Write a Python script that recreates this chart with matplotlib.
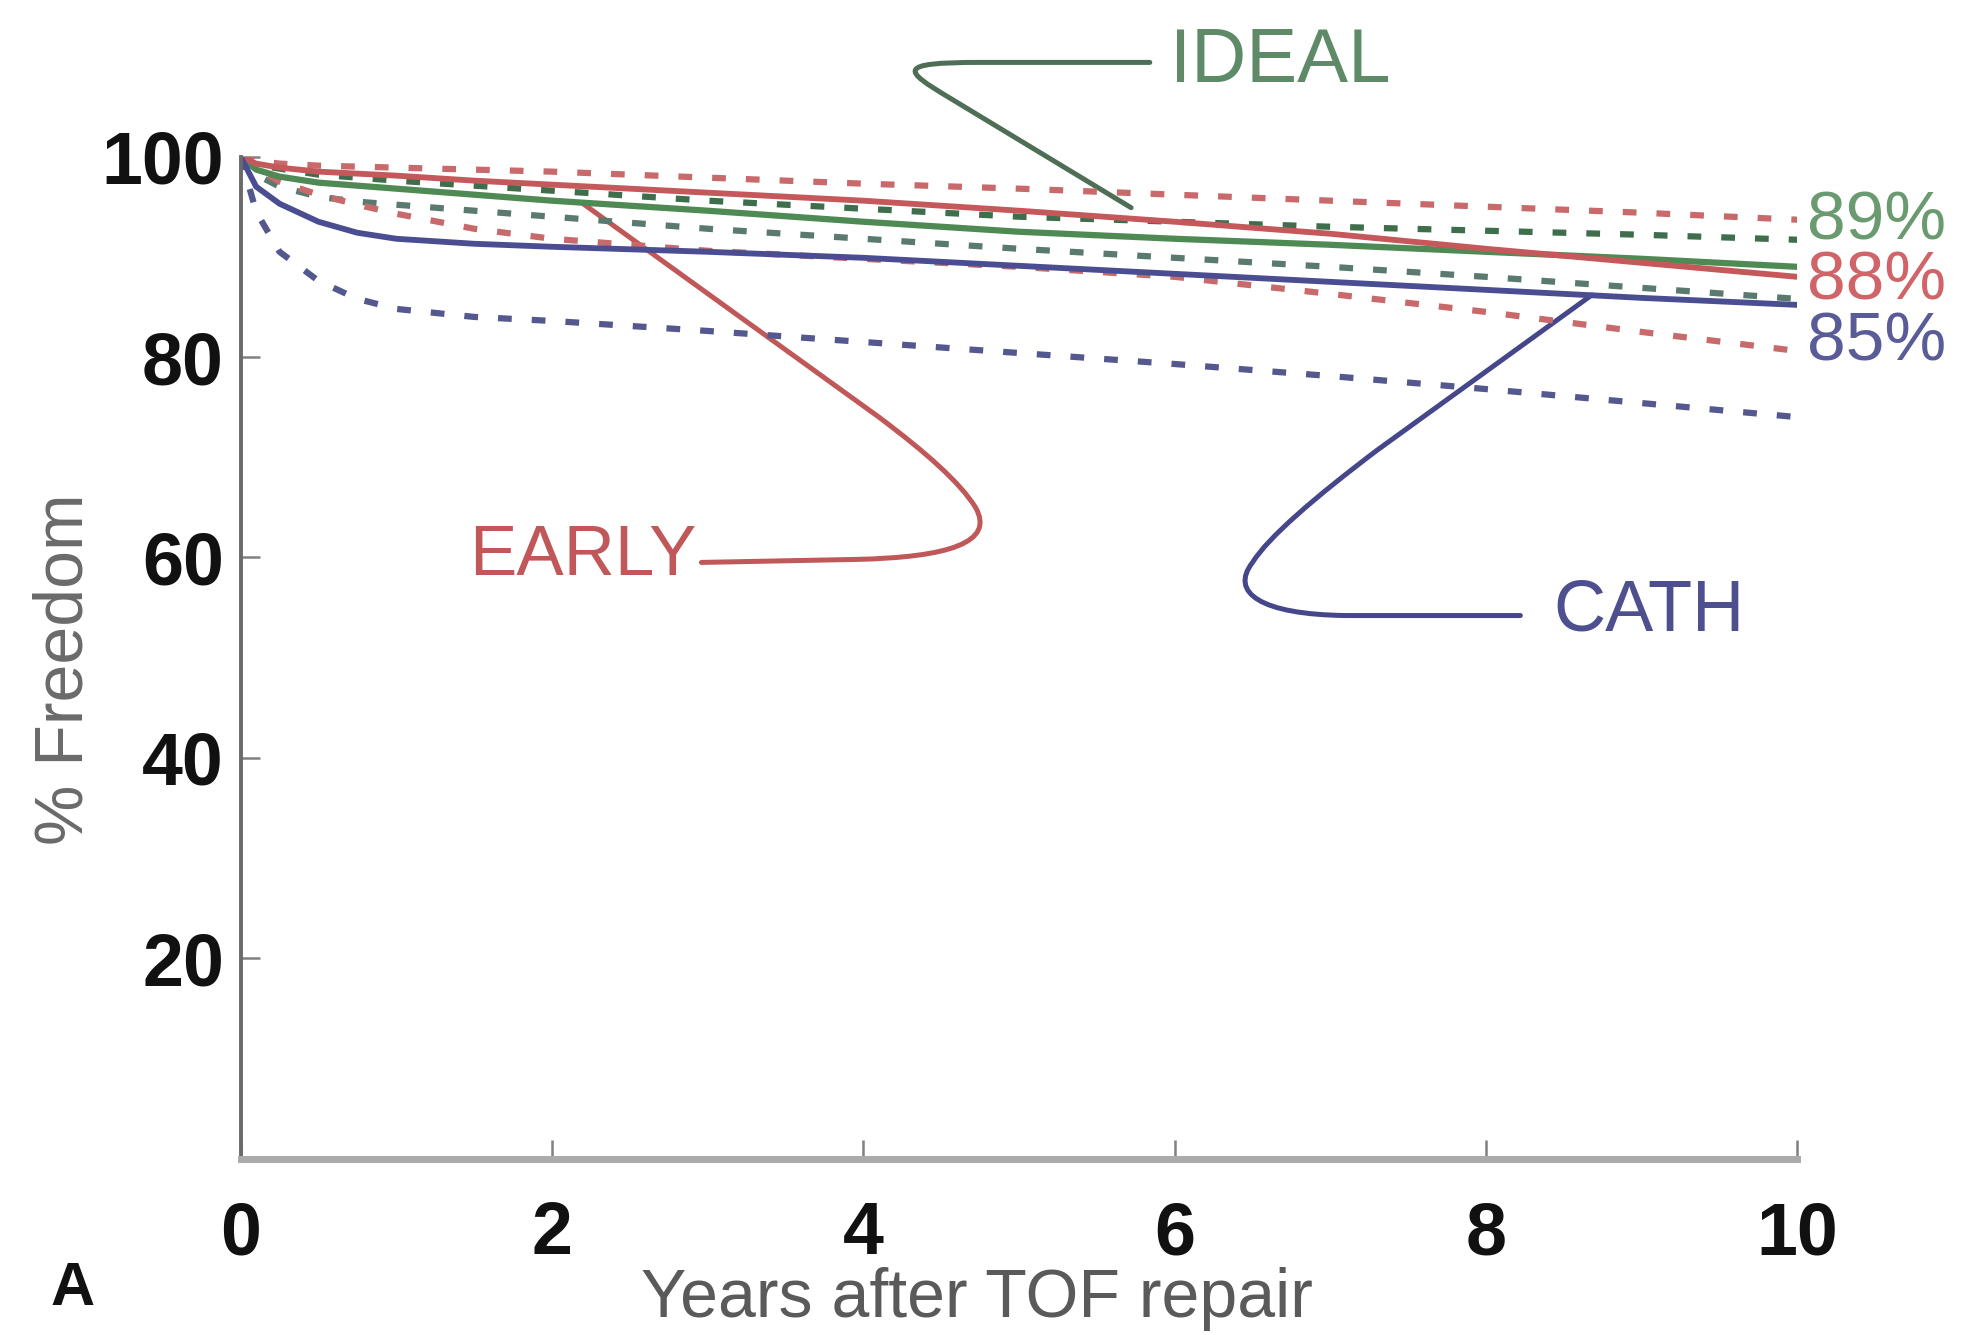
import matplotlib
matplotlib.use('Agg')
import matplotlib.pyplot as plt
from matplotlib.path import Path
from matplotlib.patches import PathPatch

# ---- data ----
years = [0, 0.1, 0.25, 0.5, 0.75, 1, 1.5, 2, 3, 4, 5, 6, 7, 8, 9, 10]

early_upper = [100, 99.6, 99.3, 99.1, 99.0, 98.9, 98.7, 98.5, 97.9, 97.3, 96.8, 96.2, 95.6, 95.0, 94.4, 93.7]
early       = [100, 99.3, 98.9, 98.5, 98.3, 98.1, 97.6, 97.2, 96.4, 95.6, 94.6, 93.5, 92.3, 90.8, 89.4, 88.0]
early_lower = [100, 98.8, 97.5, 96.2, 95.2, 94.3, 92.8, 91.8, 90.6, 89.8, 89.0, 88.0, 86.3, 84.5, 82.5, 80.6]

ideal_upper = [100, 99.2, 98.8, 98.2, 97.9, 97.6, 97.1, 96.6, 95.6, 94.8, 94.0, 93.5, 93.0, 92.6, 92.2, 91.7]
ideal       = [100, 98.7, 98.0, 97.4, 97.1, 96.8, 96.2, 95.6, 94.6, 93.5, 92.5, 91.8, 91.2, 90.5, 89.8, 89.0]
ideal_lower = [100, 98.2, 97.0, 96.0, 95.5, 95.2, 94.6, 94.0, 92.8, 91.8, 90.8, 89.9, 89.0, 88.0, 86.9, 85.8]

cath        = [100, 97.0, 95.3, 93.5, 92.4, 91.8, 91.3, 91.0, 90.5, 89.9, 89.1, 88.3, 87.5, 86.7, 85.9, 85.2]
cath_lower  = [100, 94.5, 90.5, 87.6, 85.8, 84.8, 84.0, 83.6, 82.6, 81.5, 80.4, 79.3, 78.1, 76.8, 75.4, 74.0]

xticks = [0, 2, 4, 6, 8, 10]
yticks = [20, 40, 60, 80, 100]
end_labels = ['89%', '88%', '85%']
group_names = ['IDEAL', 'EARLY', 'CATH']

# ---- style ----
plt.rcParams['font.family'] = ['Liberation Sans', 'DejaVu Sans']

RED = '#c4585a'
RED_D = '#c86a6c'
GREEN = '#4f8a55'
GREEN_D = '#3f6e4c'
BLUE = '#4b4d92'
BLUE_D = '#55588f'

fig = plt.figure(figsize=(19.64, 13.35), dpi=100)
ax = fig.add_axes([0.1225, 0.1321, 0.7927, 0.7506])

dash = (2.2, 3.2)
ax.plot(years, early_upper, color=RED_D, lw=4.5, dashes=dash)
ax.plot(years, ideal_upper, color=GREEN_D, lw=4.5, dashes=dash)
ax.plot(years, ideal_lower, color='#5a7a70', lw=4.5, dashes=dash)
ax.plot(years, early_lower, color=RED_D, lw=4.5, dashes=dash)
ax.plot(years, cath_lower, color=BLUE_D, lw=4.5, dashes=dash)
ax.plot(years, ideal, color=GREEN, lw=4.5)
ax.plot(years, early, color=RED, lw=4.2)
ax.plot(years, cath, color=BLUE, lw=4.2)

ax.set_xlim(0, 10)
ax.set_ylim(0, 100)
ax.set_xticks(xticks, [str(t) for t in xticks])
ax.set_yticks(yticks, [str(t) for t in yticks])
ax.tick_params(direction='in', length=14, width=1.8, color='#808080',
               labelsize=53, labelcolor='#111111')
ax.tick_params(axis='x', pad=30)
ax.tick_params(axis='y', pad=12)
for lbl in ax.get_xticklabels() + ax.get_yticklabels():
    lbl.set_fontweight('bold')

for s in ['top', 'right']:
    ax.spines[s].set_visible(False)
ax.spines['left'].set_color('#6a6a6a')
ax.spines['left'].set_linewidth(2.8)
ax.spines['bottom'].set_color('#aaaaaa')
ax.spines['bottom'].set_linewidth(5)

ax.set_xlabel('Years after TOF repair', fontsize=49, color='#5a5a5a')
ax.xaxis.label.set_va('center')
ax.xaxis.set_label_coords(0.473, -0.140)
ax.set_ylabel('% Freedom', fontsize=49, color='#6a6a6a')
ax.yaxis.label.set_va('center')
ax.yaxis.set_label_coords(-0.113, 0.488)

fig.text(0.037, 0.034, 'A', fontsize=44, fontweight='bold', color='#111111',
         ha='center', va='center')

# ---- leader lines and group labels ----
def leader(verts, codes, color):
    patch = PathPatch(Path(verts, codes), fc='none', ec=color, lw=3.6,
                      clip_on=False, transform=ax.transData, capstyle='round')
    ax.add_patch(patch)

M, L, C = Path.MOVETO, Path.LINETO, Path.CURVE4

leader([(5.84, 109.4), (4.75, 109.4), (4.2, 109.4), (4.26, 108.6), (4.55, 105.9), (5.72, 94.9)],
       [M, L, C, C, C, L], '#4e6e55')
ax.text(5.97, 109.35, group_names[0], fontsize=55, color='#5f8a68',
        ha='left', va='center', clip_on=False)

leader([(2.96, 59.5), (3.95, 59.8), (4.55, 60.0), (4.85, 61.5), (4.72, 65.0),
        (4.62, 67.5), (4.4, 70.5), (4.1, 74.0), (2.2, 95.3)],
       [M, L, C, C, C, C, C, C, L], '#c0585a')
ax.text(1.47, 60.0, group_names[1], fontsize=51, color='#c0585a',
        ha='left', va='center', clip_on=False)

leader([(8.22, 54.2), (7.1, 54.2), (6.55, 54.3), (6.35, 56.5), (6.5, 59.5),
        (6.6, 62.0), (6.9, 66.0), (7.3, 70.7), (8.68, 86.2)],
       [M, L, C, C, C, C, C, C, L], '#45478a')
ax.text(8.43, 54.6, group_names[2], fontsize=52, color='#4d4f8e',
        ha='left', va='center', clip_on=False)

# ---- end-of-curve percentages ----
for txt, yv, col in zip(end_labels, [93.5, 87.5, 81.4], ['#6a9a6f', '#d06468', '#5a5c98']):
    ax.text(10.06, yv, txt, fontsize=50, color=col, ha='left', va='center', clip_on=False)

fig.savefig('out.png', dpi=100, facecolor='white')
